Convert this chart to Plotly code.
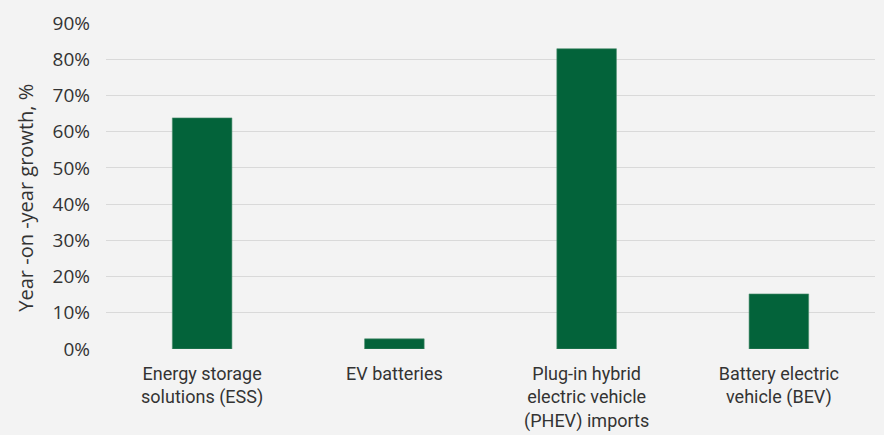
import plotly.graph_objects as go

categories = [
    "Energy storage<br>solutions (ESS)",
    "EV batteries",
    "Plug-in hybrid<br>electric vehicle<br>(PHEV) imports",
    "Battery electric<br>vehicle (BEV)",
]
growth = [0.638, 0.028, 0.829, 0.152]
tick_vals = [0, 0.1, 0.2, 0.3, 0.4, 0.5, 0.6, 0.7, 0.8, 0.9]
tick_text = ["0%", "10%", "20%", "30%", "40%", "50%", "60%", "70%", "80%", "90%"]
y_title = "Year -on -year growth, %"

fig = go.Figure(
    go.Bar(
        x=categories,
        y=growth,
        marker=dict(color="#03633a", line=dict(color="#4d8f6e", width=0.6)),
        width=0.31,
    )
)

fig.update_layout(
    width=884,
    height=435,
    margin=dict(l=106, r=9, t=23, b=86),
    paper_bgcolor="#f3f3f3",
    plot_bgcolor="#f3f3f3",
    showlegend=False,
    font=dict(family="Open Sans, Lato, sans-serif", color="#333333", size=19),
)
fig.add_annotation(
    text=y_title,
    xref="paper",
    yref="paper",
    x=-0.105,
    y=0.465,
    xanchor="center",
    yanchor="middle",
    textangle=-90,
    showarrow=False,
    font=dict(size=20, family="Open Sans, sans-serif", color="#333333"),
)
fig.update_yaxes(
    range=[0, 0.9],
    tickvals=tick_vals,
    ticktext=tick_text,
    showgrid=True,
    gridcolor="#d9d9d9",
    gridwidth=1.3,
    zeroline=False,
    automargin=False,
    ticklabelstandoff=15,
    tickfont=dict(size=19, family="Open Sans, sans-serif", color="#333333"),
)
fig.update_xaxes(
    showgrid=False,
    showline=False,
    automargin=False,
    ticklabelstandoff=12,
    tickfont=dict(size=18, family="Roboto, sans-serif", color="#333333"),
)

fig.write_html("out.html")
